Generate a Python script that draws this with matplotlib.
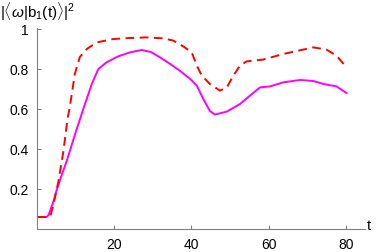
import matplotlib
matplotlib.use("Agg")
import matplotlib.pyplot as plt

# ---- data ----
t_red = [0, 3.0, 3.5, 4.2, 5.5, 6.8, 7.9, 8.5, 9.8, 11.1, 12.9, 15.5, 19.8, 24.1,
         28.4, 32.8, 35.3, 37.9, 40.1, 41.4, 42.7, 44.8, 47.4, 49.2, 50.9, 52.6,
         54.3, 58.6, 63.8, 69.0, 71.6, 75.0, 77.6, 80.2]
v_red = [0.06, 0.06, 0.067, 0.117, 0.233, 0.383, 0.55, 0.61, 0.775, 0.86, 0.90,
         0.933, 0.95, 0.955, 0.958, 0.953, 0.942, 0.913, 0.883, 0.817, 0.767,
         0.725, 0.692, 0.708, 0.767, 0.817, 0.838, 0.847, 0.875, 0.897, 0.908,
         0.897, 0.867, 0.808]

t_mag = [0, 2.5, 3.0, 4.3, 5.1, 6.5, 7.7, 9.8, 12.0, 14.2, 15.9, 18.0, 21.0, 24.1,
         27.1, 29.5, 31.9, 34.5, 37.1, 39.7, 41.4, 43.1, 44.8, 46.1, 49.2, 52.6,
         55.2, 57.8, 60.4, 63.8, 68.1, 71.6, 74.2, 77.6, 80.2]
v_mag = [0.06, 0.06, 0.07, 0.14, 0.195, 0.275, 0.34, 0.47, 0.6, 0.725, 0.8, 0.833,
         0.863, 0.883, 0.895, 0.885, 0.858, 0.825, 0.79, 0.75, 0.717, 0.65, 0.59,
         0.572, 0.587, 0.625, 0.667, 0.708, 0.713, 0.733, 0.745, 0.74, 0.725,
         0.713, 0.68]

x_ticks = [20, 40, 60, 80]
x_ticklabels = ["20", "40", "60", "80"]
y_ticks = [0.2, 0.4, 0.6, 0.8, 1.0]
y_ticklabels = ["0.2", "0.4", "0.6", "0.8", "1"]

plt.rcParams['font.family'] = ['Liberation Sans', 'DejaVu Sans']
plt.rcParams['mathtext.fontset'] = 'custom'
plt.rcParams['mathtext.rm'] = 'Liberation Sans'
plt.rcParams['mathtext.it'] = 'Liberation Sans:italic'

fig = plt.figure(figsize=(3.82, 2.53), dpi=100)
ax = fig.add_axes([37/382, 23/253, (365-37)/382, (230-29)/253])

ax.plot(t_mag, v_mag, color='#FF00FF', lw=1.4, solid_joinstyle='round')
ax.plot(t_red, v_red, color='#FF0000', lw=1.4, dashes=(4.5, 2.8))

ax.set_xlim(0, 85)
ax.set_ylim(0, 1.005)

for s in ['top', 'right']:
    ax.spines[s].set_visible(False)
for s in ['left', 'bottom']:
    ax.spines[s].set_color('#808080')
    ax.spines[s].set_linewidth(0.8)

ax.set_xticks(x_ticks)
ax.set_xticklabels(x_ticklabels)
ax.set_yticks(y_ticks)
ax.set_yticklabels(y_ticklabels)
ax.tick_params(direction='in', length=3, width=0.8, color='#808080',
               labelsize=10, labelcolor='black')
ax.tick_params(axis='x', pad=6)
ax.tick_params(axis='y', pad=6)

fig.text(0.0, 1 - 1/253, r'$|\langle\omega|\mathrm{b}_1(\mathrm{t})\rangle|^2$',
         fontsize=11, ha='left', va='top')
fig.text(367/382, 1 - 230/253, 't', fontsize=10.5, ha='left', va='baseline')

fig.savefig('out.png', dpi=100)
